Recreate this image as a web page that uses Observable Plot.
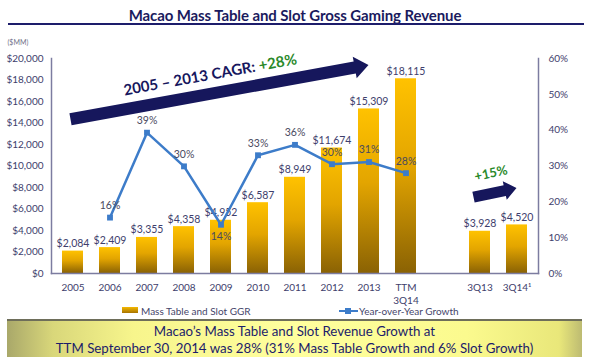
<!DOCTYPE html>
<html><head><meta charset="utf-8">
<script src="https://cdn.jsdelivr.net/npm/d3@7"></script>
<script src="https://cdn.jsdelivr.net/npm/@observablehq/plot@0.6"></script>
<style>
body{margin:0;width:590px;height:362px;position:relative;overflow:hidden;background:#fff;font-family:Lato,"DejaVu Sans",sans-serif;}
#title{position:absolute;left:0;top:0;width:590px;text-align:center;font-weight:700;font-size:15px;letter-spacing:-0.1px;color:#1b1b5e;line-height:30px;}
#rule{position:absolute;left:8px;top:23px;width:576px;height:2px;background:#1d1d6b;}
#chart{position:absolute;left:0;top:26px;}
.lg{position:absolute;font-size:10px;color:#45456a;line-height:12px;top:305px;}
#sw{position:absolute;left:122px;top:307px;width:16px;height:6px;background:linear-gradient(#f5b800,#a87400);}
#bline{position:absolute;left:339px;top:310px;width:19px;height:2px;background:#3d7cc9;}
#bmark{position:absolute;left:345px;top:308px;width:6px;height:6px;background:#3d7cc9;}
#banner{position:absolute;left:7px;top:319px;width:575px;height:38px;box-sizing:border-box;border-top:2px solid #6e6e5a;
background:linear-gradient(90deg,#a9a86a 0%,#d9d77a 8%,#f7f58c 22%,#ffff9e 50%,#fbfa8e 80%,#e9e77a 96%,#bdbb72 100%);
text-align:center;color:#1c1c6a;font-size:13.3px;line-height:17px;padding-top:2px;}
</style></head>
<body>
<div id="title">Macao Mass Table and Slot Gross Gaming Revenue</div>
<div id="rule"></div>
<div id="chart"></div>
<div id="sw"></div><div class="lg" style="left:141px">Mass Table and Slot GGR</div>
<div id="bline"></div><div id="bmark"></div><div class="lg" style="left:359px">Year-over-Year Growth</div>
<div id="banner">Macao’s Mass Table and Slot Revenue Growth at<br>TTM September 30, 2014 was 28% (31% Mass Table Growth and 6% Slot Growth)</div>
<script>
// ---- data ----
const categories = ["2005","2006","2007","2008","2009","2010","2011","2012","2013","TTM","gap","3Q13","3Q14"];
const tickLabels = {"TTM": "TTM\n3Q14", "3Q14": "3Q14¹", "gap": ""};
const barCats = ["2005","2006","2007","2008","2009","2010","2011","2012","2013","TTM","3Q13","3Q14"];
const ggrValues = [2084,2409,3355,4358,4952,6587,8949,11674,15309,18115,3928,4520];
const growthCats = ["2006","2007","2008","2009","2010","2011","2012","2013","TTM"];
const growthValues = [15.6,39.3,29.9,13.6,33.0,35.9,30.5,31.1,28.0];
const growthLabels = ["16%","39%","30%","14%","33%","36%","30%","31%","28%"];
const yTicks = [0,2000,4000,6000,8000,10000,12000,14000,16000,18000,20000];
const pctTicks = [0,10,20,30,40,50,60];
const yMax = 20000, pctMax = 60;
// annotation arrows, in data units [category, value]
const cagrArrow = {from: ["2005", 14300], to: ["2013", 19350], label: "2005 – 2013 CAGR: ", pct: "+28%"};
const qArrow = {from: ["3Q13", 7050], to: ["3Q14", 7900], pct: "+15%"};

const bars = barCats.map((c, i) => ({cat: c, v: ggrValues[i]}));
const growth = growthCats.map((c, i) => ({cat: c, g: growthValues[i], label: growthLabels[i]}));
const fmt = d3.format(",");
const toY = g => g * yMax / pctMax;

const navyText = "#3e3e6c";
const blue = "#3d7cc9";
const axisStroke = "#7c7ca0";

const defs = () => {
  const d = d3.create("svg:defs");
  const g = d.append("linearGradient").attr("id", "barGrad").attr("x1", 0).attr("y1", 0).attr("x2", 0).attr("y2", 1);
  g.append("stop").attr("offset", "0%").attr("stop-color", "#ffc200");
  g.append("stop").attr("offset", "45%").attr("stop-color", "#e3a500");
  g.append("stop").attr("offset", "100%").attr("stop-color", "#8a6204");
  return d.node();
};

const chart = Plot.plot({
  width: 590, height: 279,
  marginLeft: 51, marginRight: 52, marginTop: 32, marginBottom: 32,
  style: {fontFamily: "Lato, sans-serif", fontSize: "10px", color: navyText, background: "transparent", overflow: "visible"},
  x: {domain: categories, paddingInner: 0.44, paddingOuter: 0.22, axis: null, label: null},
  y: {domain: [0, yMax], axis: null, label: null},
  marks: [
    defs,
    Plot.barY(bars, {x: "cat", y: "v", fill: "url(#barGrad)"}),
    Plot.frame({anchor: "left", stroke: axisStroke, strokeWidth: 1.5}),
    Plot.frame({anchor: "right", stroke: axisStroke, strokeWidth: 1.5}),
    Plot.frame({anchor: "bottom", stroke: axisStroke, strokeWidth: 1.5}),
    Plot.axisY(yTicks, {anchor: "left", label: null, tickSize: 0, tickPadding: 8, tickFormat: d => "$" + fmt(d), fontSize: 10}),
    Plot.axisY(pctTicks.map(toY), {anchor: "right", label: null, tickSize: 0, tickPadding: 10, tickFormat: d => Math.round(d * pctMax / yMax) + "%", fontSize: 10}),
    Plot.axisX(categories, {anchor: "bottom", label: null, tickSize: 0, tickPadding: 8, tickFormat: d => tickLabels[d] ?? d, fontSize: 10, lineHeight: 1.3}),
    Plot.text(bars, {x: "cat", y: "v", text: d => "$" + fmt(d.v), lineAnchor: "bottom", dy: -4, fill: navyText, fontSize: 10.5}),
    Plot.line(growth, {x: "cat", y: d => toY(d.g), stroke: blue, strokeWidth: 2.5}),
    Plot.dot(growth, {x: "cat", y: d => toY(d.g), symbol: "square", r: 3.3, fill: blue}),
    Plot.text(growth.filter(d => d.cat !== "2009"), {x: "cat", y: d => toY(d.g), text: "label", dy: -12, fill: "#4a4a5e", fontSize: 10.5}),
    Plot.text(growth.filter(d => d.cat === "2009"), {x: "cat", y: d => toY(d.g), text: "label", dy: 12, fill: "#4a4a5e", fontSize: 10.5}),
    Plot.text(["($MM)"], {frameAnchor: "top-left", dx: -44, dy: -18, textAnchor: "start", fontSize: 7, fill: "#707088"})
  ]
});
document.getElementById("chart").appendChild(chart);

// ---- arrows drawn through the plot's scales ----
const svg = d3.select(chart.tagName.toLowerCase() === "svg" ? chart : chart.querySelector("svg"));
const xs = chart.scale("x"), ys = chart.scale("y");
const P = ([c, v]) => [xs.apply(c) + xs.bandwidth / 2, ys.apply(v)];
function arrow(a, w, hw, hl, dxStart) {
  const S = P(a.from); S[0] += dxStart;
  const T = P(a.to);
  const L = Math.hypot(T[0] - S[0], T[1] - S[1]);
  const u = [(T[0] - S[0]) / L, (T[1] - S[1]) / L], n = [-u[1], u[0]];
  const B = [T[0] - u[0] * hl, T[1] - u[1] * hl];
  const pts = [
    [S[0] + n[0] * w, S[1] + n[1] * w], [B[0] + n[0] * w, B[1] + n[1] * w], [B[0] + n[0] * hw, B[1] + n[1] * hw],
    T, [B[0] - n[0] * hw, B[1] - n[1] * hw], [B[0] - n[0] * w, B[1] - n[1] * w], [S[0] - n[0] * w, S[1] - n[1] * w]
  ];
  svg.append("polygon").attr("points", pts.map(p => p.join(",")).join(" ")).attr("fill", "#16175c");
  return {S, T, u, n, angle: Math.atan2(u[1], u[0]) * 180 / Math.PI};
}
const A = arrow(cagrArrow, 6, 11, 14, -2);
{
  const t = 0.48, off = 19;
  const x = A.S[0] + (A.T[0] - A.S[0]) * t - A.n[0] * off;
  const y = A.S[1] + (A.T[1] - A.S[1]) * t - A.n[1] * off;
  const tx = svg.append("text").attr("transform", `translate(${x},${y}) rotate(${A.angle})`)
    .attr("text-anchor", "middle").attr("dy", "0.35em").attr("font-weight", 700).attr("font-size", 15)
    .attr("font-family", "Lato, sans-serif");
  tx.append("tspan").attr("fill", "#17175e").text(cagrArrow.label);
  tx.append("tspan").attr("fill", "#2b8a2b").text(cagrArrow.pct);
}
const Q = arrow(qArrow, 5.5, 9.5, 12, -6);
{
  const x = (Q.S[0] + Q.T[0]) / 2 - Q.n[0] * 20, y = (Q.S[1] + Q.T[1]) / 2 - Q.n[1] * 20;
  svg.append("text").attr("transform", `translate(${x},${y}) rotate(${Q.angle})`)
    .attr("text-anchor", "middle").attr("dy", "0.35em").attr("font-weight", 700).attr("font-size", 13)
    .attr("font-family", "Lato, sans-serif").attr("fill", "#2b8a2b").text(qArrow.pct);
}
</script>
</body></html>
